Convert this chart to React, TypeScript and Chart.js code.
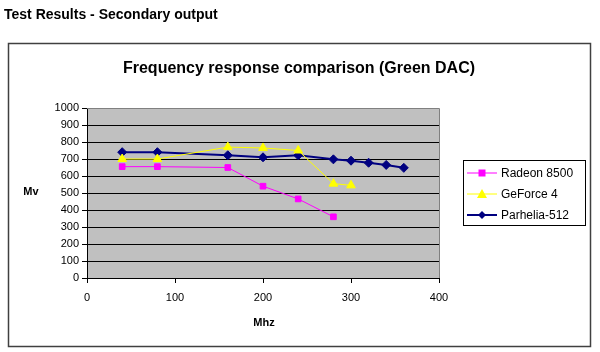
import React, { useEffect, useRef } from "react";
import { Chart, registerables } from "chart.js";
Chart.register(...registerables);

const pageTitle = "Test Results - Secondary output";
const chartTitle = "Frequency response comparison (Green DAC)";
const xTitle = "Mhz";
const yTitle = "Mv";

const radeonLabel = "Radeon 8500";
const radeonMhz = [40, 80, 160, 200, 240, 280];
const radeonMv = [655, 655, 650, 540, 465, 360];

const geforceLabel = "GeForce 4";
const geforceMhz = [40, 80, 160, 200, 240, 280, 300];
const geforceMv = [700, 700, 770, 765, 750, 555, 545];

const parheliaLabel = "Parhelia-512";
const parheliaMhz = [40, 80, 160, 200, 240, 280, 300, 320, 340, 360];
const parheliaMv = [740, 740, 722, 710, 722, 698, 690, 678, 665, 648];

const FONT = "'Liberation Sans', Arial, sans-serif";

const toPts = (xs: number[], ys: number[]) => xs.map((x, i) => ({ x, y: ys[i] }));

export default function App() {
  const ref = useRef<HTMLCanvasElement>(null);
  useEffect(() => {
    document.body.style.margin = "0";
    const canvas = ref.current!;
    const datasets: any[] = [
      {
        label: radeonLabel,
        data: toPts(radeonMhz, radeonMv),
        borderColor: "#ff00ff",
        backgroundColor: "#ff00ff",
        borderWidth: 1,
        pointStyle: "rect",
        pointRadius: 4,
        pointBorderWidth: 1,
        showLine: true,
      },
      {
        label: geforceLabel,
        data: toPts(geforceMhz, geforceMv),
        borderColor: "#ffff00",
        backgroundColor: "#ffff00",
        borderWidth: 1,
        pointStyle: "triangle",
        pointRadius: 5,
        pointBorderWidth: 1,
        showLine: true,
      },
      {
        label: parheliaLabel,
        data: toPts(parheliaMhz, parheliaMv),
        borderColor: "#000080",
        backgroundColor: "#000080",
        borderWidth: 2,
        pointStyle: "rectRot",
        pointRadius: 4.5,
        pointBorderWidth: 1,
        showLine: true,
      },
    ];

    const decor = {
      id: "decor",
      beforeDraw(chart: any) {
        const c = chart.ctx;
        const a = chart.chartArea;
        c.save();
        c.fillStyle = "#ffffff";
        c.fillRect(0, 0, chart.width, chart.height);
        c.fillStyle = "#c0c0c0";
        c.fillRect(a.left, a.top, a.right - a.left, a.bottom - a.top);
        c.strokeStyle = "#404040";
        c.lineWidth = 1.5;
        c.strokeRect(8.5, 43.5, 582, 303);
        c.restore();
      },
      afterDraw(chart: any) {
        const c = chart.ctx;
        const a = chart.chartArea;
        c.save();
        // plot border top/right
        c.strokeStyle = "#808080";
        c.lineWidth = 1;
        c.beginPath();
        c.moveTo(a.left, a.top + 0.5);
        c.lineTo(a.right + 0.5, a.top + 0.5);
        c.lineTo(a.right + 0.5, a.bottom);
        c.stroke();
        // titles
        c.fillStyle = "#000";
        c.textBaseline = "alphabetic";
        c.textAlign = "left";
        c.font = `bold 14px ${FONT}`;
        c.fillText(pageTitle, 4, 19);
        c.textAlign = "center";
        c.font = `bold 16px ${FONT}`;
        c.fillText(chartTitle, 299, 73);
        c.font = `bold 11px ${FONT}`;
        c.textBaseline = "middle";
        c.fillText(yTitle, 31, 192);
        c.fillText(xTitle, 264, 323);
        // legend
        const lx = 463.5, ly = 160.5, lw = 122, lh = 65;
        c.fillStyle = "#fff";
        c.fillRect(lx, ly, lw, lh);
        c.strokeStyle = "#000";
        c.lineWidth = 1;
        c.strokeRect(lx, ly, lw, lh);
        const rows = [173, 194, 215];
        chart.data.datasets.forEach((ds: any, i: number) => {
          const y = rows[i];
          c.strokeStyle = ds.borderColor;
          c.lineWidth = ds.borderWidth;
          c.beginPath();
          c.moveTo(467, y);
          c.lineTo(497, y);
          c.stroke();
          c.fillStyle = ds.backgroundColor;
          const cx = 482;
          c.beginPath();
          if (ds.pointStyle === "rect") {
            c.rect(cx - 3.5, y - 3.5, 7, 7);
          } else if (ds.pointStyle === "triangle") {
            c.moveTo(cx, y - 5);
            c.lineTo(cx + 5, y + 4);
            c.lineTo(cx - 5, y + 4);
            c.closePath();
          } else {
            c.moveTo(cx, y - 4);
            c.lineTo(cx + 4, y);
            c.lineTo(cx, y + 4);
            c.lineTo(cx - 4, y);
            c.closePath();
          }
          c.fill();
          c.fillStyle = "#000";
          c.textAlign = "left";
          c.textBaseline = "middle";
          c.font = `12px ${FONT}`;
          c.fillText(ds.label, 501, y + 0.5);
        });
        c.restore();
      },
    };

    const chart = new Chart(canvas, {
      type: "scatter",
      data: { datasets },
      options: {
        responsive: false,
        animation: false,
        events: [],
        layout: { padding: { left: 0, top: 108, right: 161, bottom: 0 } },
        plugins: { legend: { display: false }, title: { display: false }, tooltip: { enabled: false } },
        scales: {
          x: {
            type: "linear",
            min: 0,
            max: 400,
            ticks: { stepSize: 100, color: "#000", font: { family: FONT, size: 11 }, padding: 8, maxRotation: 0, callback: (v: any) => String(v) },
            grid: { drawOnChartArea: false, drawTicks: true, tickLength: 5, tickColor: "#000" },
            border: { color: "#000", width: 1 },
            afterFit: (s: any) => { s.height = 74; },
          },
          y: {
            type: "linear",
            min: 0,
            max: 1000,
            ticks: { stepSize: 100, color: "#000", font: { family: FONT, size: 11 }, padding: 3, callback: (v: any) => String(v) },
            grid: {
              color: (ctx: any) => (ctx.tick && ctx.tick.value === 1000 ? "#808080" : "#000"),
              lineWidth: 1,
              tickLength: 5,
              tickColor: "#000",
            },
            border: { color: "#000", width: 1 },
            afterFit: (s: any) => { s.width = 87; },
          },
        },
      } as any,
      plugins: [decor],
    });
    return () => chart.destroy();
  }, []);
  return (
    <div style={{ width: 600, height: 352, position: "relative" }}>
      <canvas ref={ref} width={600} height={352} style={{ display: "block", width: 600, height: 352 }} />
    </div>
  );
}
